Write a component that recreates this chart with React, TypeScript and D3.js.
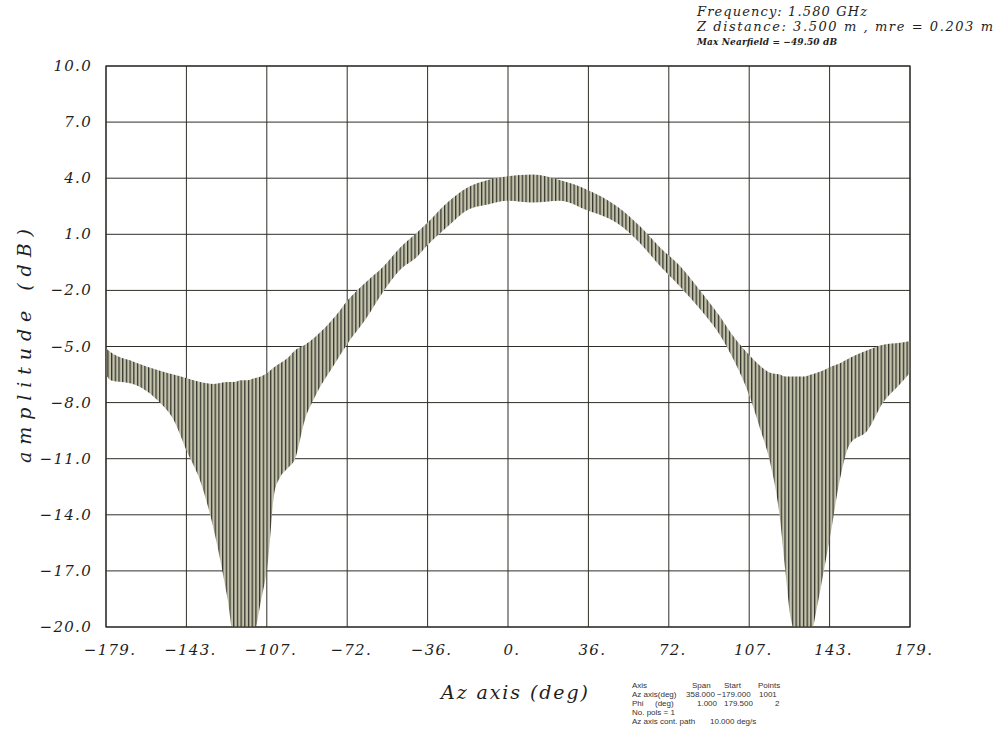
import React from "react";
import * as d3 from "d3";

// Azimuth sample positions (deg) and the upper / lower envelope of the ripple (dB)
const azimuth = [
  -179, -177, -167, -155, -149, -143, -137, -131, -125, -122, -119, -116, -113, -110, -107, -104, -101.5,
  -98, -94.8, -90.4, -86, -77, -71.2, -63.7, -55.7, -48, -40.5, -36, -27, -18, -9, 0, 11, 23, 35, 48.5,
  59, 67.7, 76.6, 85.5, 94.4, 100, 104, 107.7, 112, 116.7, 121, 123.5, 126, 129, 132, 135, 137.5, 140,
  143.4, 147.8, 152.3, 160, 167, 174.6, 179,
];
const upperDb = [
  -5.1, -5.3, -5.8, -6.3, -6.5, -6.7, -6.9, -7.0, -6.9, -6.9, -6.8, -6.8, -6.7, -6.6, -6.4, -6.1, -5.9,
  -5.6, -5.2, -4.9, -4.5, -3.4, -2.5, -1.6, -0.75, 0.3, 1.1, 1.6, 2.7, 3.5, 3.9, 4.1, 4.2, 3.9, 3.4, 2.5,
  1.4, 0.3, -0.7, -2.0, -3.4, -4.4, -5.0, -5.5, -6.0, -6.4, -6.5, -6.6, -6.6, -6.6, -6.6, -6.5, -6.4, -6.3,
  -6.1, -5.9, -5.6, -5.2, -4.9, -4.8, -4.7,
];
const lowerDb = [
  -6.5, -6.8, -7.0, -8.0, -8.9, -10.6, -12.2, -14.8, -18.4, -20.5, -20.5, -20.5, -20.3, -18.6, -16.6, -12.8, -12.0,
  -11.5, -11.0, -8.9, -7.7, -5.9, -4.8, -3.6, -2.1, -0.9, -0.2, 0.4, 1.4, 2.3, 2.6, 2.8, 2.7, 2.8, 2.3, 1.6,
  0.5, -0.7, -1.8, -3.0, -4.4, -5.6, -6.6, -7.7, -9.3, -11.2, -14.1, -17.0, -19.6, -20.5, -20.5, -20.3, -19.0, -17.4,
  -15.2, -12.1, -10.2, -9.5, -8.0, -7.0, -6.4,
];

const yTickValues = [10, 7, 4, 1, -2, -5, -8, -11, -14, -17, -20];
const yTickLabels = ["10.0", "7.0", "4.0", "1.0", "−2.0", "−5.0", "−8.0", "−11.0", "−14.0", "−17.0", "−20.0"];
const xTickValues = [-179, -143.2, -107.4, -71.6, -35.8, 0, 35.8, 71.6, 107.4, 143.2, 179];
const xTickLabels = ["−179.", "−143.", "−107.", "−72.", "−36.", "0.", "36.", "72.", "107.", "143.", "179."];

const headerLines = ["Frequency: 1.580 GHz", "Z distance: 3.500 m , mre = 0.203 m"];
const nearfieldLine = "Max Nearfield = −49.50 dB";

const W = 997;
const H = 733;
const L = 106;
const R = 910;
const T = 66;
const B = 627;

export default function App() {
  const x = d3.scaleLinear().domain([-179, 179]).range([L, R]);
  const y = d3.scaleLinear().domain([-20, 10]).range([B, T]);

  const rows = azimuth.map((a, i) => ({ a, hi: upperDb[i], lo: lowerDb[i] }));
  const area = d3
    .area<{ a: number; hi: number; lo: number }>()
    .x((d) => x(d.a))
    .y0((d) => y(d.lo))
    .y1((d) => y(d.hi))
    .curve(d3.curveMonotoneX);

  const serif = "'DejaVu Serif', 'Liberation Serif', serif";
  const sans = "'Liberation Sans', Arial, sans-serif";
  const gridColor = "#2e2e28";
  const textColor = "#1e1e1e";

  return (
    <svg
      width={W}
      height={H}
      viewBox={`0 0 ${W} ${H}`}
      style={{ position: "absolute", left: 0, top: 0, background: "#fff" }}
    >
      <defs>
        <pattern id="ripple" patternUnits="userSpaceOnUse" width={3.7} height={8}>
          <rect x={0} y={0} width={3.7} height={8} fill="#c4c3ad" />
          <rect x={0} y={0} width={1.3} height={8} fill="#35352c" />
        </pattern>
        <clipPath id="plotClip">
          <rect x={L} y={T} width={R - L} height={B - T} />
        </clipPath>
      </defs>

      {/* grid */}
      {yTickValues.map((v) => (
        <line key={"gy" + v} x1={L} x2={R} y1={y(v)} y2={y(v)} stroke={gridColor} strokeWidth={1} />
      ))}
      {xTickValues.map((v) => (
        <line key={"gx" + v} x1={x(v)} x2={x(v)} y1={T} y2={B} stroke={gridColor} strokeWidth={1} />
      ))}

      {/* data band */}
      <g clipPath="url(#plotClip)">
        <path d={area(rows) ?? ""} fill="url(#ripple)" />
      </g>

      <rect x={L} y={T} width={R - L} height={B - T} fill="none" stroke={gridColor} strokeWidth={1.2} />

      {/* y tick labels */}
      {yTickValues.map((v, i) => (
        <text
          key={"ty" + v}
          x={92}
          y={y(v) + 5}
          textAnchor="end"
          fontFamily={serif}
          fontStyle="italic"
          fontSize={15}
          letterSpacing={1.3}
          fill={textColor}
        >
          {yTickLabels[i]}
        </text>
      ))}
      {/* x tick labels */}
      {xTickValues.map((v, i) => (
        <text
          key={"tx" + v}
          x={x(v) + 4}
          y={655}
          textAnchor="middle"
          fontFamily={serif}
          fontStyle="italic"
          fontSize={15}
          letterSpacing={1.3}
          fill={textColor}
        >
          {xTickLabels[i]}
        </text>
      ))}

      {/* axis titles */}
      <text
        x={441}
        y={699}
        fontFamily={serif}
        fontStyle="italic"
        fontSize={19}
        fill={textColor}
        textLength={147}
        lengthAdjust="spacing"
      >
        Az axis (deg)
      </text>
      <text
        transform={`translate(31,463) rotate(-90)`}
        fontFamily={serif}
        fontStyle="italic"
        fontSize={19}
        fill={textColor}
        textLength={234}
        lengthAdjust="spacing"
      >
        amplitude (dB)
      </text>

      {/* header */}
      <text x={697} y={16} fontFamily={serif} fontStyle="italic" fontSize={13} fill={textColor} textLength={170} lengthAdjust="spacing">
        {headerLines[0]}
      </text>
      <text x={697} y={31} fontFamily={serif} fontStyle="italic" fontSize={13} fill={textColor} textLength={296} lengthAdjust="spacing">
        {headerLines[1]}
      </text>
      <text x={697} y={45} fontFamily={serif} fontStyle="italic" fontWeight="bold" fontSize={9} fill={textColor} textLength={140} lengthAdjust="spacing">
        {nearfieldLine}
      </text>

      {/* info table */}
      <g fontFamily={sans} fontSize={8} fill="#333">
        <text x={632} y={688}>Axis</text>
        <text x={692} y={688}>Span</text>
        <text x={724} y={688}>Start</text>
        <text x={758} y={688}>Points</text>
        <text x={632} y={697}>Az axis(deg)</text>
        <text x={686} y={697}>358.000</text>
        <text x={717} y={697}>−179.000</text>
        <text x={759} y={697}>1001</text>
        <text x={632} y={706}>Phi</text>
        <text x={655} y={706}>(deg)</text>
        <text x={697} y={706}>1.000</text>
        <text x={724} y={706}>179.500</text>
        <text x={775} y={706}>2</text>
        <text x={632} y={715}>No. pols = 1</text>
        <text x={632} y={724}>Az axis cont. path</text>
        <text x={710} y={724}>10.000 deg/s</text>
      </g>
    </svg>
  );
}
